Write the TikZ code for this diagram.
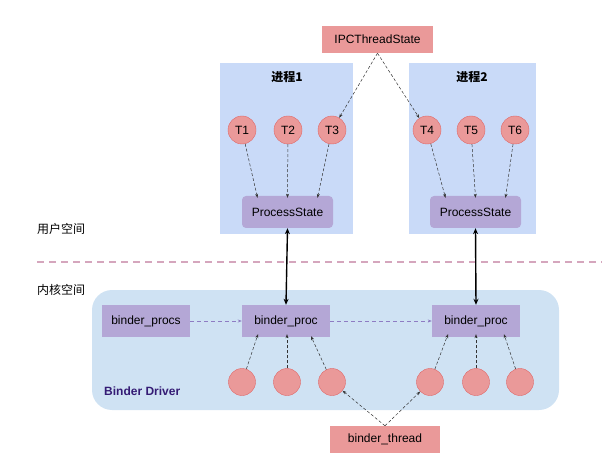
\documentclass[tikz,border=0pt]{standalone}
\usepackage{fontspec}
\setmainfont{Liberation Sans}
\newfontfamily\cjk{Noto Sans CJK SC}
\usetikzlibrary{arrows.meta}
\definecolor{procbg}{HTML}{C9DAF8}
\definecolor{drvbg}{HTML}{CFE2F3}
\definecolor{redf}{HTML}{EA9999}
\definecolor{redd}{HTML}{E06666}
\definecolor{purf}{HTML}{B4A7D6}
\definecolor{purd}{HTML}{8E7CC3}
\definecolor{divc}{HTML}{D5A6BD}
\definecolor{drvtxt}{HTML}{351C75}
\tikzset{
  thr/.style={circle,fill=redf,draw=redd,line width=0.4pt,minimum size=28pt,inner sep=0pt,font=\fontsize{12}{14}\selectfont},
  bthr/.style={circle,fill=redf,draw=redd,line width=0.4pt,minimum size=27pt,inner sep=0pt},
  redbox/.style={fill=redf,draw=none,minimum height=27pt,inner sep=0pt,font=\fontsize{12}{14}\selectfont},
  psbox/.style={fill=purf,draw=none,rounded corners=4pt,minimum width=91pt,minimum height=32pt,inner sep=0pt,font=\fontsize{12}{14}\selectfont},
  bpbox/.style={fill=purf,draw=none,minimum width=88pt,minimum height=32pt,inner sep=0pt,font=\fontsize{12}{14}\selectfont},
  darr/.style={dashed,dash pattern=on 3pt off 2pt,line width=0.5pt,black!80,-{Stealth[length=4pt,width=3pt]}},
  parr/.style={dashed,dash pattern=on 4pt off 3pt,line width=0.6pt,purd,-{Stealth[length=4pt,width=3pt]}},
  barr/.style={line width=1.4pt,black,{Stealth[length=6pt,width=5pt]}-{Stealth[length=6pt,width=5pt]}},
  lbl/.style={font=\cjk\fontsize{12}{14}\selectfont,anchor=west,inner sep=0pt},
}
\begin{document}
\begin{tikzpicture}[x=1pt,y=-1pt]
\useasboundingbox (0,0) rectangle (602,462);
% backgrounds
\fill[procbg] (220,63) rectangle (353,234);
\fill[procbg] (409,63) rectangle (536,234);
\fill[drvbg,rounded corners=20pt] (92,290) rectangle (559,410);
% divider
\draw[divc,line width=1.5pt,dash pattern=on 7pt off 5pt] (37,262) -- (602,262);
% labels
\node[lbl] (us) at (37,229) {用户空间};
\node[lbl] (ks) at (37,290) {内核空间};
\node[font=\cjk\bfseries\fontsize{12}{14}\selectfont] (p1) at (287,77) {进程1};
\node[font=\cjk\bfseries\fontsize{12}{14}\selectfont] (p2) at (472,77) {进程2};
\node[font=\bfseries\fontsize{12}{14}\selectfont,text=drvtxt,anchor=west,inner sep=0pt] (bd) at (104,391) {Binder Driver};
% IPC
\node[redbox,minimum width=111pt] (ipc) at (377.5,39.5) {IPCThreadState};
% threads
\node[thr] (T1) at (242,130) {T1};
\node[thr] (T2) at (288,130) {T2};
\node[thr] (T3) at (332,130) {T3};
\node[thr] (T4) at (427,130) {T4};
\node[thr] (T5) at (471,130) {T5};
\node[thr] (T6) at (515,130) {T6};
% process states
\node[psbox] (ps1) at (287.5,212) {ProcessState};
\node[psbox] (ps2) at (475.5,212) {ProcessState};
% binder procs
\node[bpbox] (bps) at (146,321) {binder\_procs};
\node[bpbox] (bp1) at (286,321) {binder\_proc};
\node[bpbox] (bp2) at (476,321) {binder\_proc};
% binder threads
\node[bthr] (c1) at (242,382) {};
\node[bthr] (c2) at (287,382) {};
\node[bthr] (c3) at (332,382) {};
\node[bthr] (c4) at (430,382) {};
\node[bthr] (c5) at (476,382) {};
\node[bthr] (c6) at (520,382) {};
\node[redbox,minimum width=110pt] (bt) at (385,439.5) {binder\_thread};
% arrows
\draw[darr] (ipc.south) -- (T3);
\draw[darr] (ipc.south) -- (T4);
\draw[darr] (T1) -- ([xshift=-30pt,yshift=-2pt]ps1.north);
\draw[darr] (T2) -- ([xshift=0pt,yshift=-2pt]ps1.north);
\draw[darr] (T3) -- ([xshift=30pt,yshift=-2pt]ps1.north);
\draw[darr] (T4) -- ([xshift=-30pt,yshift=-2pt]ps2.north);
\draw[darr] (T5) -- ([xshift=0pt,yshift=-2pt]ps2.north);
\draw[darr] (T6) -- ([xshift=30pt,yshift=-2pt]ps2.north);
\draw[barr] (ps1.south) -- (bp1.north);
\draw[barr] (ps2.south) -- (bp2.north);
\draw[parr] (bps) -- (bp1);
\draw[parr] (bp1) -- (bp2);
\draw[darr] (c1) -- ([xshift=-28pt,yshift=3pt]bp1.south);
\draw[darr] (c2) -- ([xshift=1pt,yshift=3pt]bp1.south);
\draw[darr] (c3) -- ([xshift=25pt,yshift=1pt]bp1.south);
\draw[darr] (c4) -- ([xshift=-28pt,yshift=3pt]bp2.south);
\draw[darr] (c5) -- ([xshift=0pt,yshift=3pt]bp2.south);
\draw[darr] (c6) -- ([xshift=28pt,yshift=3pt]bp2.south);
\draw[darr] (bt.north) -- (c3);
\draw[darr] (bt.north) -- (c4);
\end{tikzpicture}
\end{document}
